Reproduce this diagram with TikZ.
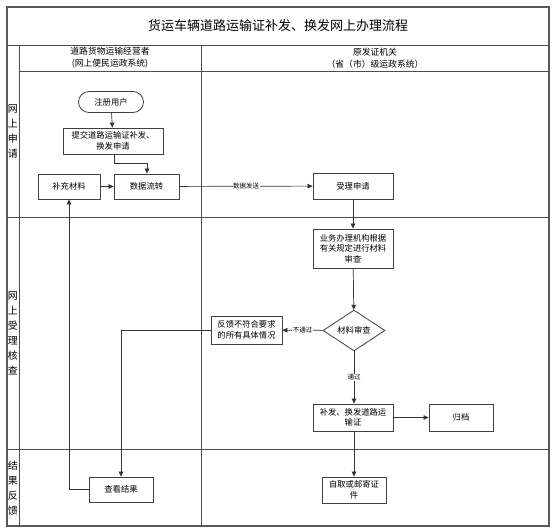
\documentclass[tikz,border=0pt]{standalone}
\usepackage{fontspec}
\setmainfont{Noto Sans CJK SC}
\usetikzlibrary{arrows.meta,shapes.geometric}
\begin{document}
\begin{tikzpicture}[x=1pt,y=-1pt,
  frame/.style={draw=black!65, line width=1.3pt},
  sep/.style={draw=black!70, line width=0.9pt},
  box/.style={draw=black!75, line width=0.8pt, fill=white, align=center, inner sep=1pt, font=\fontsize{8.3}{10.5}\selectfont},
  arr/.style={draw=black!80, line width=0.7pt, -{Triangle[length=5pt,width=4.5pt]}},
  lbl/.style={font=\fontsize{6.5}{8}\selectfont, fill=white, inner sep=0.5pt},
  lane/.style={font=\fontsize{10}{15}\selectfont, align=center, inner sep=0pt},
  head/.style={font=\fontsize{8.8}{12}\selectfont, align=center, inner sep=0pt}]
\useasboundingbox (0,0) rectangle (559,532);
\fill[white] (0,0) rectangle (559,532);
% frame and separators
\draw[frame] (7,7) rectangle (549,526);
\draw[sep] (7,45) -- (549,45);
\draw[sep] (19,71) -- (549,71);
\draw[sep] (19,45) -- (19,526);
\draw[sep] (201,45) -- (201,526);
\draw[sep] (7,217) -- (549,217);
\draw[sep] (7,449) -- (549,449);
% title and headers
\node[font=\fontsize{13}{15}\selectfont] (title) at (278,26) {货运车辆道路运输证补发、换发网上办理流程};
\node[head] (h1) at (110,58) {道路货物运输经营者\\(网上便民运政系统)};
\node[head] (h2) at (375,58) {原发证机关\\（省（市）级运政系统）};
% lanes
\node[lane] (l1) at (13,131) {网\\上\\申\\请};
\node[lane] (l2) at (13,333) {网\\上\\受\\理\\核\\查};
\node[lane] (l3) at (13,488) {结\\果\\反\\馈};
% nodes
\node[box, rounded corners=10.5pt, minimum width=65pt, minimum height=21pt] (reg) at (111,102) {注册用户};
\node[box, minimum width=100pt, minimum height=26pt] (sub) at (113,141) {提交道路运输证补发、\\换发申请};
\node[box, minimum width=62pt, minimum height=25pt] (sup) at (69,186.5) {补充材料};
\node[box, minimum width=65pt, minimum height=25pt] (flow) at (146.5,186.5) {数据流转};
\node[box, minimum width=80pt, minimum height=26pt] (acc) at (353,186) {受理申请};
\node[box, minimum width=80pt, minimum height=39pt] (rev) at (353,248.5) {业务办理机构根据\\有关规定进行材料\\审查};
\node[box, diamond, minimum width=62pt, minimum height=37pt, inner sep=0pt] (dia) at (354,330.5) {材料审查};
\node[box, minimum width=71pt, minimum height=28pt] (fb) at (246.5,330) {反馈不符合要求\\的所有具体情况};
\node[box, minimum width=80pt, minimum height=27pt] (iss) at (353,417.5) {补发、换发道路运\\输证};
\node[box, minimum width=64pt, minimum height=27pt] (arc) at (461,417.5) {归档};
\node[box, minimum width=64pt, minimum height=26pt] (pick) at (354,490) {自取或邮寄证\\件};
\node[box, minimum width=64pt, minimum height=25pt] (view) at (121,489.5) {查看结果};
% connectors
\draw[arr] (reg) -- (sub);
\draw[arr] (sub.south -| 114,0) |- (147,163) -- (flow.north -| 147,0);
\draw[arr] (sup) -- (flow);
\draw[arr] (flow) -- node[lbl, pos=0.5] {数据发送} (acc);
\draw[arr] (acc) -- (rev);
\draw[arr] (rev) -- (dia);
\draw[arr] (dia) -- node[lbl, pos=0.5] {不通过} (fb);
\draw[arr] (dia) -- node[lbl, pos=0.5] {通过} (iss.north -| dia.south);
\draw[arr] (iss) -- (arc);
\draw[arr] (iss.south -| dia.south) -- (pick);
\draw[arr] (fb.west) -| (view.north);
\draw[arr] (view.west) -| (sup.south);
\end{tikzpicture}
\end{document}
